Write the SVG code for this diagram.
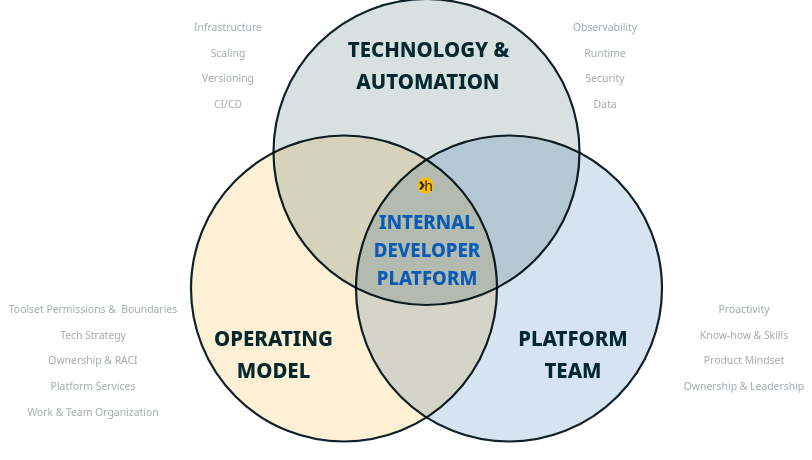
<svg xmlns="http://www.w3.org/2000/svg" width="812" height="460" viewBox="0 0 812 460">
<style>
.c{stroke:#0f2026;stroke-width:2.200;mix-blend-mode:multiply}
.t{font-family:"Noto Sans",sans-serif;font-weight:800;font-size:20.400px;fill:#04282e;text-anchor:middle}
.i{font-family:"Noto Sans",sans-serif;font-weight:800;font-size:18.700px;fill:#0a5bb5;text-anchor:middle}
.l{font-family:"Noto Sans",sans-serif;font-size:10.400px;fill:#a5acaf;text-anchor:middle}
</style>
<rect width="812" height="460" fill="#fff"/>
<g id="connectors"></g>
<g id="node-technology">
<circle class="c" cx="426.500" cy="152" r="153" fill="#d8e0e0"/>
<text class="t" x="428.500" y="56.500">TECHNOLOGY &amp;</text>
<text class="t" x="428" y="88.500">AUTOMATION</text>
</g>
<g id="node-operating">
<circle class="c" cx="344" cy="288.500" r="153" fill="#fdf0d5"/>
<text class="t" x="273.500" y="345.500">OPERATING</text>
<text class="t" x="273.500" y="377.500">MODEL</text>
</g>
<g id="node-team">
<circle class="c" cx="509" cy="288.500" r="153" fill="#d6e3f0"/>
<text class="t" x="573" y="345.500">PLATFORM</text>
<text class="t" x="573" y="377.500">TEAM</text>
</g>
<g id="node-platform">
<text class="i" x="427" y="228.500">INTERNAL</text>
<text class="i" x="427" y="256.500">DEVELOPER</text>
<text class="i" x="427" y="284.500">PLATFORM</text>
</g>
<g id="node-logo">
<circle cx="425.500" cy="185.500" r="8" fill="#fdbf00"/>
<text x="425.700" y="190.500" font-family="Noto Sans,sans-serif" font-size="14" fill="#2c2415" text-anchor="middle"><tspan font-size="19" font-weight="700" dx="0">›</tspan><tspan dx="-1">h</tspan></text>
</g>
<g id="list-technology-left">
<text class="l" x="228" y="31">Infrastructure</text>
<text class="l" x="228" y="57">Scaling</text>
<text class="l" x="228" y="82">Versioning</text>
<text class="l" x="228" y="108">CI/CD</text>
</g>
<g id="list-technology-right">
<text class="l" x="605" y="31">Observability</text>
<text class="l" x="605" y="57">Runtime</text>
<text class="l" x="605" y="82">Security</text>
<text class="l" x="605" y="108">Data</text>
</g>
<g id="list-operating">
<text class="l" x="93" y="313" xml:space="preserve">Toolset Permissions &amp;  Boundaries</text>
<text class="l" x="93" y="339">Tech Strategy</text>
<text class="l" x="93" y="364">Ownership &amp; RACI</text>
<text class="l" x="93" y="390">Platform Services</text>
<text class="l" x="93" y="416">Work &amp; Team Organization</text>
</g>
<g id="list-team">
<text class="l" x="744" y="313">Proactivity</text>
<text class="l" x="744" y="339">Know-how &amp; Skills</text>
<text class="l" x="744" y="364">Product Mindset</text>
<text class="l" x="744" y="390">Ownership &amp; Leadership</text>
</g>
</svg>
